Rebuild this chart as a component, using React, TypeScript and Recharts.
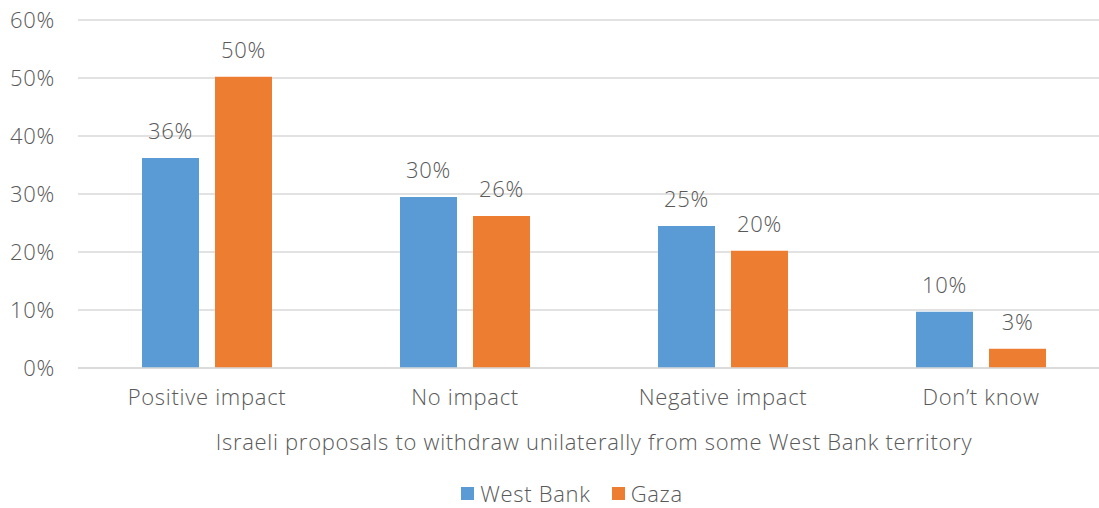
import { Bar, BarChart, CartesianGrid, LabelList, Legend, XAxis, YAxis } from 'recharts'

const categories = ['Positive impact', 'No impact', 'Negative impact', 'Don\u2019t know']
const westBank = [36.2, 29.5, 24.5, 9.7]
const gaza = [50.2, 26.2, 20.2, 3.3]
const yTicks = [0, 10, 20, 30, 40, 50, 60]

const data = categories.map((name, i) => ({ name, westBank: westBank[i], gaza: gaza[i] }))

const ink = '#595959'
const font = '"Open Sans", Lato, sans-serif'
const textStyle = { fontSize: 22, fill: ink, fontFamily: font, fontWeight: 300, letterSpacing: 0.7 }

const pct = (v: unknown) => `${Math.round(Number(v))}%`

function LegendContent() {
  const items = [
    { label: 'West Bank', color: '#5B9BD5' },
    { label: 'Gaza', color: '#ED7D31' },
  ]
  return (
    <div
      style={{
        height: 26,
        paddingLeft: 34,
        display: 'flex',
        justifyContent: 'center',
        alignItems: 'center',
        gap: 21,
        fontFamily: font,
        fontWeight: 300,
        fontSize: 22,
        letterSpacing: 0.7,
        color: ink,
      }}
    >
      {items.map((it) => (
        <span key={it.label} style={{ display: 'flex', alignItems: 'center' }}>
          <span style={{ width: 13, height: 13, background: it.color, marginRight: 6 }} />
          {it.label}
        </span>
      ))}
    </div>
  )
}

export default function App() {
  return (
    <div style={{ position: 'absolute', left: 0, top: 0, width: 1099, height: 508, background: '#fff' }}>
      <BarChart
        width={1099}
        height={508}
        data={data}
        margin={{ top: 20, right: -11, left: 0, bottom: 2 }}
        barSize={57}
        barGap={16}
      >
        <CartesianGrid vertical={false} stroke="#d9d9d9" strokeWidth={1.5} />
        <XAxis
          dataKey="name"
          height={112}
          axisLine={{ stroke: '#d9d9d9', strokeWidth: 1.5 }}
          tickLine={false}
          tickSize={0}
          tickMargin={21}
          tick={textStyle}
          label={{
            value: 'Israeli proposals to withdraw unilaterally from some West Bank territory',
            position: 'insideBottom',
            offset: 30,
            ...textStyle,
          }}
        />
        <YAxis
          width={78}
          domain={[0, 60]}
          ticks={yTicks}
          axisLine={false}
          tickLine={false}
          tickSize={0}
          tickMargin={23}
          tickFormatter={(v) => `${v}%`}
          tick={textStyle}
        />
        <Legend verticalAlign="bottom" content={<LegendContent />} />
        <Bar dataKey="westBank" name="West Bank" fill="#5B9BD5" isAnimationActive={false}>
          <LabelList dataKey="westBank" position="top" offset={19} formatter={pct} {...textStyle} />
        </Bar>
        <Bar dataKey="gaza" name="Gaza" fill="#ED7D31" isAnimationActive={false}>
          <LabelList dataKey="gaza" position="top" offset={19} formatter={pct} {...textStyle} />
        </Bar>
      </BarChart>
    </div>
  )
}
